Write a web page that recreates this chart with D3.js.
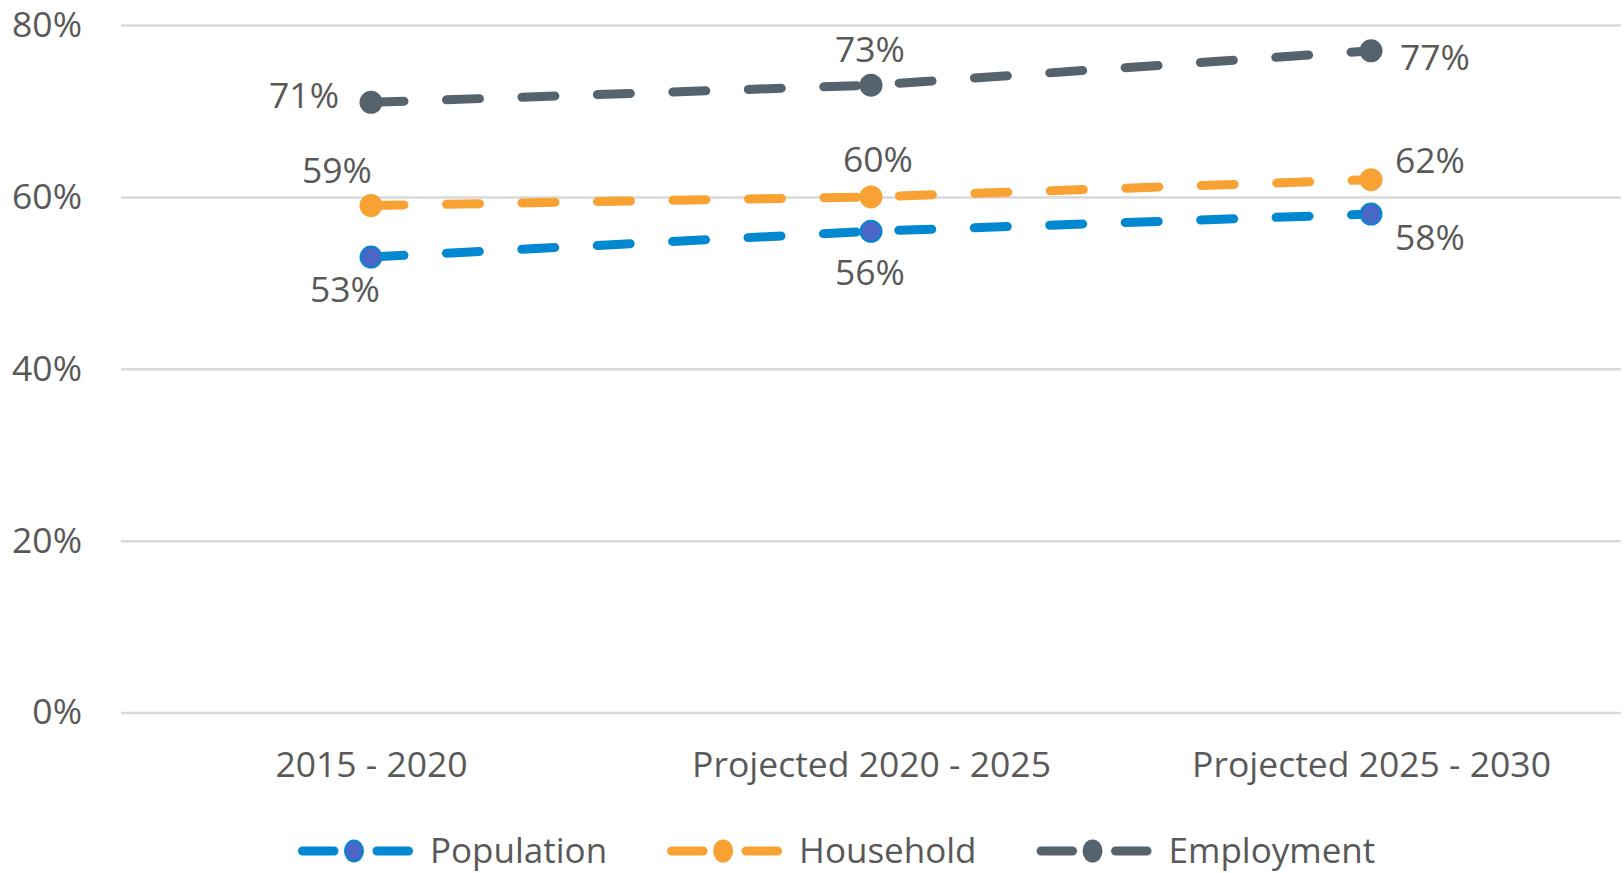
<!DOCTYPE html>
<html>
<head>
<meta charset="utf-8">
<script src="https://cdn.jsdelivr.net/npm/d3@7"></script>
<style>
  body { margin: 0; background: #fff; }
  text { font-family: "Open Sans", sans-serif; fill: #595959; }
</style>
</head>
<body>
<div id="chart"></div>
<script>
var categories = ["2015 - 2020", "Projected 2020 - 2025", "Projected 2025 - 2030"];
var seriesNames = ["Population", "Household", "Employment"];
var population = [0.53, 0.56, 0.58];
var household = [0.59, 0.60, 0.62];
var employment = [0.71, 0.73, 0.77];
var yTicks = [0, 0.2, 0.4, 0.6, 0.8];

var width = 1624,
    height = 873,
    plotLeft = 121,
    plotRight = 1621,
    plotTop = 25,
    plotBottom = 712.6,
    fontSize = 35.5;

var lineColor = { Population: "#0288d1", Household: "#f9a234", Employment: "#54636e" };
var markerFill = { Population: "#4a67c6", Household: "#f9a234", Employment: "#54636e" };

// where each data label sits relative to its point: [anchor, dx, dy]
var labelPlace = {
  Population: [["middle", -26, 45], ["middle", -1, 54], ["start", 24, 36]],
  Household: [["middle", -34, -22], ["middle", 7, -25], ["start", 24, -6.5]],
  Employment: [["end", -32, 6], ["middle", -1, -23.5], ["start", 29, 19]]
};

var series = [
  { name: "Population", values: population },
  { name: "Household", values: household },
  { name: "Employment", values: employment }
];

var x = d3.scalePoint()
    .domain(categories)
    .range([plotLeft, plotRight])
    .padding(0.5);

var y = d3.scaleLinear()
    .domain([0, 0.8])
    .range([plotBottom, plotTop]);

var svg = d3.select("#chart").append("svg")
    .attr("width", width)
    .attr("height", height);

// gridlines + y labels
var yAxis = d3.axisLeft(y)
    .tickValues(yTicks)
    .tickFormat(d3.format(".0%"))
    .tickSize(-(plotRight - plotLeft))
    .tickPadding(39);

svg.append("g")
    .attr("transform", "translate(" + plotLeft + ",0)")
    .call(yAxis)
    .call(function(g) { g.select(".domain").remove(); })
    .call(function(g) {
      g.selectAll("line").attr("stroke", "#d9d9d9").attr("stroke-width", 2.5);
      g.selectAll("text").attr("font-size", fontSize).attr("font-family", null).attr("fill", null);
    });

// x labels
var xAxis = d3.axisBottom(x).tickSize(0).tickPadding(39);

svg.append("g")
    .attr("transform", "translate(0," + plotBottom + ")")
    .call(xAxis)
    .call(function(g) { g.select(".domain").remove(); })
    .call(function(g) {
      g.selectAll("text").attr("font-size", fontSize).attr("font-family", null).attr("fill", null);
    });

var line = d3.line()
    .x(function(d, i) { return x(categories[i]); })
    .y(function(d) { return y(d); });

var lines = svg.selectAll(".series")
    .data(series)
  .enter().append("g")
    .attr("class", "series");

lines.append("path")
    .attr("d", function(d) { return line(d.values); })
    .attr("fill", "none")
    .attr("stroke", function(d) { return lineColor[d.name]; })
    .attr("stroke-width", 9)
    .attr("stroke-linecap", "round")
    .attr("stroke-dasharray", "33 42.5");

lines.selectAll("circle")
    .data(function(d) { return d.values.map(function(v, i) { return { name: d.name, v: v, i: i }; }); })
  .enter().append("circle")
    .attr("cx", function(d) { return x(categories[d.i]); })
    .attr("cy", function(d) { return y(d.v); })
    .attr("r", function(d) { return d.name === "Population" ? 10.5 : 11.5; })
    .attr("fill", function(d) { return markerFill[d.name]; })
    .attr("stroke", function(d) { return d.name === "Population" ? lineColor[d.name] : "none"; })
    .attr("stroke-width", 2);

lines.selectAll(".label")
    .data(function(d) { return d.values.map(function(v, i) { return { name: d.name, v: v, i: i }; }); })
  .enter().append("text")
    .attr("class", "label")
    .attr("font-size", fontSize)
    .attr("text-anchor", function(d) { return labelPlace[d.name][d.i][0]; })
    .attr("x", function(d) { return x(categories[d.i]) + labelPlace[d.name][d.i][1]; })
    .attr("y", function(d) { return y(d.v) + labelPlace[d.name][d.i][2]; })
    .text(function(d) { return d3.format(".0%")(d.v); });

// legend
var legend = svg.append("g").attr("transform", "translate(298,851)");
var lx = 0;
seriesNames.forEach(function(name) {
  var item = legend.append("g").attr("transform", "translate(" + lx + ",0)");
  item.append("line")
      .attr("x1", 4.5).attr("x2", 112)
      .attr("stroke", lineColor[name])
      .attr("stroke-width", 9)
      .attr("stroke-linecap", "round")
      .attr("stroke-dasharray", "31.5 43");
  item.append("ellipse")
      .attr("cx", 56).attr("cy", 0)
      .attr("rx", name === "Population" ? 9 : 10).attr("ry", name === "Population" ? 10.5 : 11.5)
      .attr("fill", markerFill[name])
      .attr("stroke", name === "Population" ? lineColor[name] : "none")
      .attr("stroke-width", 2);
  var t = item.append("text")
      .attr("x", 132)
      .attr("dy", "0.35em")
      .attr("font-size", 35)
      .text(name);
  lx += 132 + t.node().getComputedTextLength() + 60;
});
</script>
</body>
</html>
